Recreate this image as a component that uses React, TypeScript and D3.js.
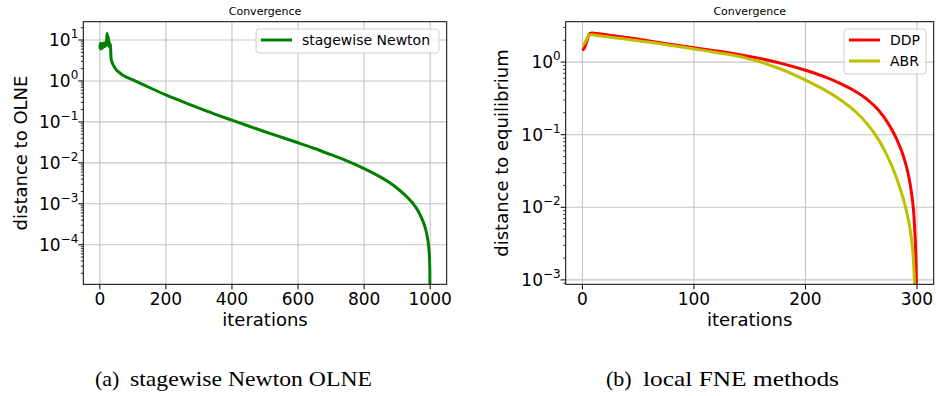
import React from 'react';
import * as d3 from 'd3';

// ---------- data ----------
const newtonIter = [0, 1, 2, 3, 4, 5, 6, 7, 8, 9, 10, 11, 12, 13, 14, 15, 16, 17, 18, 19, 20, 21, 22, 23, 24, 25, 26, 27, 28, 29, 30, 31, 32, 33, 34, 36, 40, 45, 50, 60, 70, 80, 100, 130, 150, 200, 250, 300, 350, 400, 450, 500, 550, 600, 650, 700, 750, 800, 850, 880, 900, 920, 940, 950, 960, 970, 980, 985, 990, 993, 995, 997, 998, 999, 1000];
const newtonDist = [7.5, 6.2, 8.3, 6.0, 7.8, 6.5, 8.0, 7.0, 6.3, 7.6, 8.4, 7.0, 6.8, 7.8, 8.5, 7.2, 8.0, 7.0, 8.6, 9.0, 7.5, 11, 14.5, 9, 13, 7.5, 12, 7.0, 9.5, 6.8, 8.5, 6.5, 8.0, 5.5, 3.55, 3.0, 2.51, 2.14, 1.86, 1.585, 1.38, 1.245, 1.06, 0.822, 0.692, 0.457, 0.313, 0.216, 0.153, 0.11, 0.0794, 0.0575, 0.0422, 0.0309, 0.0224, 0.0158, 0.011, 0.00724, 0.00447, 0.00316, 0.0024, 0.00174, 0.0012, 0.000966, 0.000741, 0.000531, 0.000343, 0.000257, 0.000176, 0.000129, 0.0000977, 0.0000631, 0.0000447, 0.0000224, 0.0000001];

const ddpIter = [0, 2, 4, 6, 8, 10, 15, 20, 30, 46, 60, 80, 100, 120, 140, 160, 180, 200, 215, 230, 245, 255, 265, 275, 282, 287, 291, 294, 296, 297, 298, 298.8, 299.3, 299.7, 300];
const ddpDist = [1.449, 1.6, 1.95, 2.399, 2.523, 2.506, 2.449, 2.393, 2.28, 2.113, 1.959, 1.754, 1.578, 1.426, 1.276, 1.117, 0.946, 0.773, 0.646, 0.519, 0.394, 0.309, 0.2216, 0.1366, 0.0856, 0.0553, 0.0342, 0.0204, 0.0123, 0.00871, 0.0049, 0.00257, 0.00129, 0.000513, 0.00001];

const abrIter = [0, 2, 4, 6, 8, 10, 15, 20, 30, 46, 60, 80, 100, 120, 140, 151, 160, 167, 180, 200, 215, 230, 245, 255, 265, 272, 278, 284, 288, 291, 293, 295, 296, 297, 297.5, 298, 298.5];
const abrDist = [1.73, 1.82, 2.099, 2.344, 2.382, 2.366, 2.307, 2.254, 2.153, 2.004, 1.875, 1.698, 1.517, 1.358, 1.205, 1.089, 1.002, 0.917, 0.778, 0.564, 0.4305, 0.313, 0.207, 0.1432, 0.0883, 0.0562, 0.0356, 0.01995, 0.0126, 0.00832, 0.00589, 0.00372, 0.00269, 0.0017, 0.0012, 0.000676, 0.00001];

const leftXTicks = [0, 200, 400, 600, 800, 1000];
const leftYExps = [1, 0, -1, -2, -3, -4];
const rightXTicks = [0, 100, 200, 300];
const rightYExps = [0, -1, -2, -3];

const leftSeries = [{ name: 'stagewise Newton', color: '#008000', iter: newtonIter, dist: newtonDist }];
const rightSeries = [
  { name: 'DDP', color: '#ff0000', iter: ddpIter, dist: ddpDist },
  { name: 'ABR', color: '#bfbf00', iter: abrIter, dist: abrDist },
];

const SANS = 'DejaVu Sans, sans-serif';
const SERIF = 'Liberation Serif, Times New Roman, serif';

function expText(e: number) {
  return e < 0 ? '\u2212' + Math.abs(e) : String(e);
}

type Frame = { l: number; r: number; t: number; b: number };

function Panel(props: {
  id: string;
  frame: Frame;
  xDomain: [number, number];
  yDomain: [number, number];
  xTicks: number[];
  yExps: number[];
  series: { name: string; color: string; iter: number[]; dist: number[] }[];
  yLabel: string;
  yLabelX: number;
  legend: { x0: number; x1: number; y0: number; y1: number; rowY: number[]; lineX0: number; lineX1: number; textX: number };
}) {
  const { id, frame, xDomain, yDomain, xTicks, yExps, series, yLabel, yLabelX, legend } = props;
  const x = d3.scaleLinear().domain(xDomain).range([frame.l, frame.r]);
  const y = d3.scaleLog().domain(yDomain).range([frame.b, frame.t]);
  const line = d3
    .line<[number, number]>()
    .x((d) => x(d[0]))
    .y((d) => y(Math.max(d[1], 1e-12)))
    .curve(d3.curveMonotoneX);

  const minor: number[] = [];
  const kLo = Math.floor(Math.log10(yDomain[0]));
  const kHi = Math.ceil(Math.log10(yDomain[1]));
  for (let k = kLo; k <= kHi; k++) {
    for (let m = 2; m <= 9; m++) {
      const v = m * Math.pow(10, k);
      if (v >= yDomain[0] && v <= yDomain[1]) minor.push(v);
    }
  }
  const cx = (frame.l + frame.r) / 2;
  const gridColor = '#c4c4c4';

  return (
    <g>
      <defs>
        <clipPath id={id}>
          <rect x={frame.l} y={frame.t} width={frame.r - frame.l} height={frame.b - frame.t} />
        </clipPath>
      </defs>
      <rect x={frame.l} y={frame.t} width={frame.r - frame.l} height={frame.b - frame.t} fill="#fff" />
      {xTicks.map((t) => (
        <line key={'gx' + t} x1={x(t)} x2={x(t)} y1={frame.t} y2={frame.b} stroke={gridColor} strokeWidth={1.1} />
      ))}
      {yExps.map((e) => (
        <line key={'gy' + e} x1={frame.l} x2={frame.r} y1={y(Math.pow(10, e))} y2={y(Math.pow(10, e))} stroke={gridColor} strokeWidth={1.1} />
      ))}
      <g clipPath={`url(#${id})`}>
        {series.map((s) => (
          <path
            key={s.name}
            d={line(s.iter.map((it, i) => [it, s.dist[i]] as [number, number])) || ''}
            fill="none"
            stroke={s.color}
            strokeWidth={3}
            strokeLinejoin="round"
            strokeLinecap="butt"
          />
        ))}
      </g>
      <rect x={frame.l} y={frame.t} width={frame.r - frame.l} height={frame.b - frame.t} fill="none" stroke="#000" strokeWidth={1} />
      {xTicks.map((t) => (
        <g key={'xt' + t}>
          <line x1={x(t)} x2={x(t)} y1={frame.b} y2={frame.b + 5} stroke="#000" strokeWidth={1} />
          <text x={x(t)} y={305} fontSize={17} fontFamily={SANS} textAnchor="middle" fill="#000">
            {t}
          </text>
        </g>
      ))}
      {minor.map((v) => (
        <line key={'ym' + v} x1={frame.l - 2.5} x2={frame.l} y1={y(v)} y2={y(v)} stroke="#000" strokeWidth={0.8} />
      ))}
      {yExps.map((e) => {
        const yy = y(Math.pow(10, e));
        return (
          <g key={'yt' + e}>
            <line x1={frame.l - 5} x2={frame.l} y1={yy} y2={yy} stroke="#000" strokeWidth={1} />
            <text x={frame.l - 5} y={yy + 6} fontSize={17} fontFamily={SANS} textAnchor="end" fill="#000">
              <tspan>10</tspan>
              <tspan dy={-8} fontSize={12}>
                {expText(e)}
              </tspan>
            </text>
          </g>
        );
      })}
      <text x={cx} y={15} fontSize={11} fontFamily={SANS} textAnchor="middle" fill="#000">
        Convergence
      </text>
      <text x={cx} y={326} fontSize={18} fontFamily={SANS} textAnchor="middle" fill="#000">
        iterations
      </text>
      <text
        transform={`translate(${yLabelX},${(frame.t + frame.b) / 2}) rotate(-90)`}
        fontSize={18}
        fontFamily={SANS}
        textAnchor="middle"
        fill="#000"
      >
        {yLabel}
      </text>
      <rect
        x={legend.x0}
        y={legend.y0}
        width={legend.x1 - legend.x0}
        height={legend.y1 - legend.y0}
        rx={3}
        fill="#fff"
        fillOpacity={0.8}
        stroke="#d0d0d0"
        strokeWidth={1}
      />
      {series.map((s, i) => (
        <g key={'lg' + s.name}>
          <line x1={legend.lineX0} x2={legend.lineX1} y1={legend.rowY[i]} y2={legend.rowY[i]} stroke={s.color} strokeWidth={3} />
          <text x={legend.textX} y={legend.rowY[i] + 5} fontSize={14} fontFamily={SANS} fill="#000">
            {s.name}
          </text>
        </g>
      ))}
    </g>
  );
}

export default function App() {
  return (
    <svg
      width={936}
      height={396}
      viewBox="0 0 936 396"
      style={{ position: 'absolute', left: 0, top: 0, background: '#fff' }}
    >
      <rect x={0} y={0} width={936} height={396} fill="#fff" />
      <Panel
        id="clipA"
        frame={{ l: 83.3, r: 446.7, t: 21.7, b: 284.3 }}
        xDomain={[-50, 1050]}
        yDomain={[1.08e-5, 28]}
        xTicks={leftXTicks}
        yExps={leftYExps}
        series={leftSeries}
        yLabel="distance to OLNE"
        yLabelX={27}
        legend={{ x0: 256, x1: 439, y0: 29, y1: 53, rowY: [40], lineX0: 261, lineX1: 292, textX: 302 }}
      />
      <Panel
        id="clipB"
        frame={{ l: 565.7, r: 933.7, t: 21.7, b: 284.3 }}
        xDomain={[-15, 315]}
        yDomain={[8.7e-4, 3.6]}
        xTicks={rightXTicks}
        yExps={rightYExps}
        series={rightSeries}
        yLabel="distance to equilibrium"
        yLabelX={508}
        legend={{ x0: 844, x1: 926, y0: 29, y1: 74, rowY: [40, 61], lineX0: 849, lineX1: 880, textX: 890 }}
      />
      <text x={95} y={386} fontSize={22} fontFamily={SERIF} fill="#000">(a)</text>
      <text x={130} y={386} fontSize={22} fontFamily={SERIF} fill="#000" textLength={242} lengthAdjust="spacingAndGlyphs">
        stagewise Newton OLNE
      </text>
      <text x={606} y={386} fontSize={22} fontFamily={SERIF} fill="#000">(b)</text>
      <text x={643} y={386} fontSize={22} fontFamily={SERIF} fill="#000" textLength={196} lengthAdjust="spacingAndGlyphs">
        local FNE methods
      </text>
    </svg>
  );
}
